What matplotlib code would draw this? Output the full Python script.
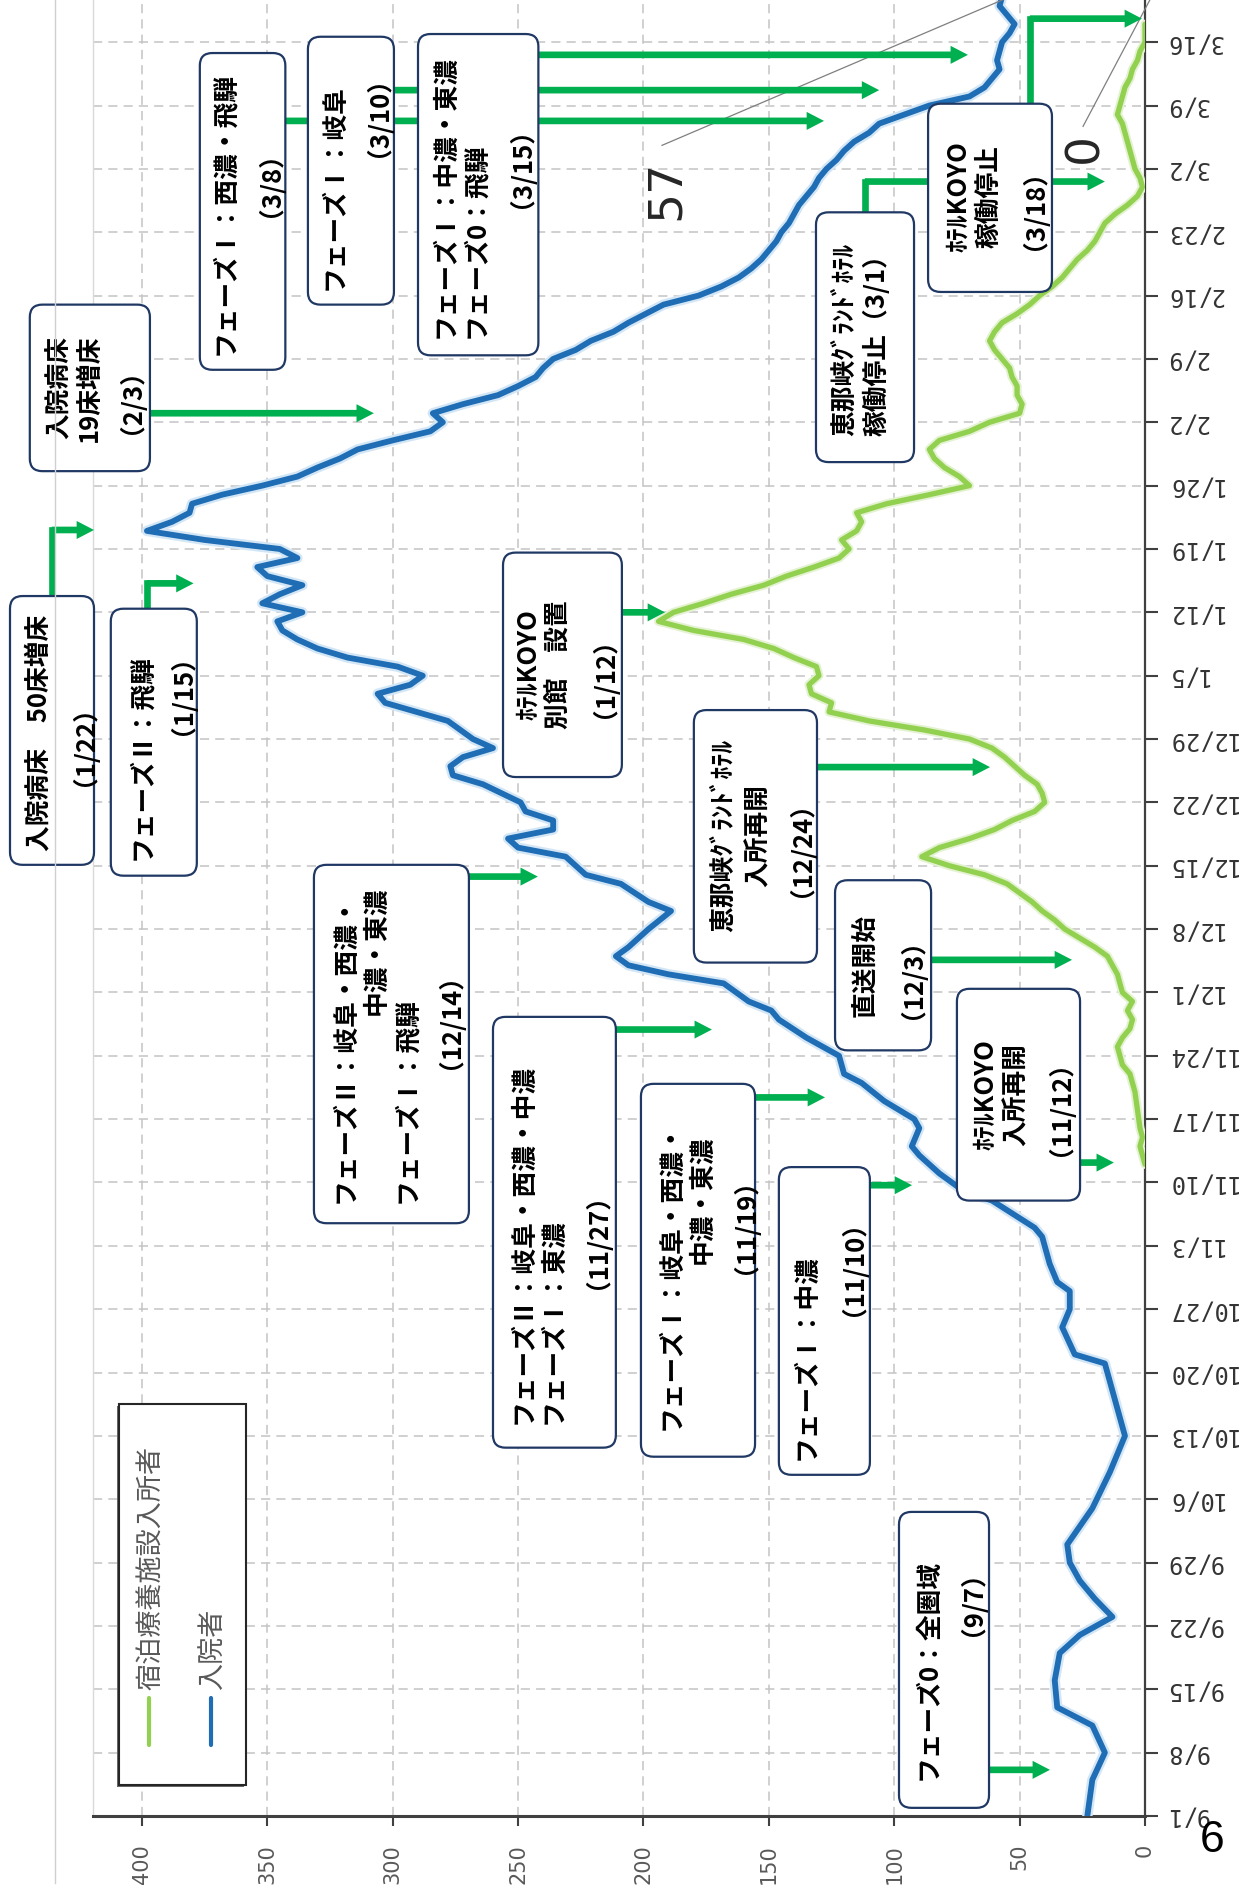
import matplotlib
matplotlib.use('Agg')
import matplotlib.pyplot as plt
import matplotlib.patheffects as pe
from matplotlib.patches import FancyBboxPatch, Rectangle
from matplotlib.lines import Line2D

plt.rcParams['font.family'] = ['Noto Sans CJK JP', 'DejaVu Sans']

# days are counted from 9/1 (2020); the chart is drawn turned on its side
date_ticks = list(range(0, 197, 7))
date_labels = ['9/1', '9/8', '9/15', '9/22', '9/29', '10/6', '10/13', '10/20', '10/27',
               '11/3', '11/10', '11/17', '11/24', '12/1', '12/8', '12/15', '12/22', '12/29',
               '1/5', '1/12', '1/19', '1/26', '2/2', '2/9', '2/16', '2/23', '3/2', '3/9', '3/16']
value_ticks = [0, 50, 100, 150, 200, 250, 300, 350, 400]

# 入院者
hosp_day = [0, 4, 7, 10, 12, 15, 18, 20, 22, 24, 26, 28, 30, 34, 38, 42, 46, 50, 51, 54, 56, 58, 59,
            61, 64, 65, 68, 69, 71, 73, 74, 76, 77, 79, 81, 82, 84, 86, 88, 89, 90, 92, 93, 94, 95,
            96, 98, 100, 101, 103, 104, 106, 107, 108, 109, 110, 111, 112, 114, 115, 116, 117, 118,
            119, 121, 123, 124, 125, 126, 127, 128, 129, 130, 131, 132, 133, 134, 135, 136, 137, 138,
            139, 140, 141, 142, 143, 144, 145, 146, 147, 148, 149, 150, 151, 152, 153, 154, 155, 156,
            157, 158, 159, 160, 161, 162, 163, 164, 165, 166, 167, 168, 169, 170, 171, 172, 173, 174,
            175, 176, 177, 178, 179, 180, 181, 182, 183, 184, 185, 186, 187, 188, 189, 190, 191, 192,
            193, 194, 195, 196, 197, 198, 199, 200, 201]
hosp_val = [23, 21, 16, 21, 35, 36, 34, 26, 13, 20, 26, 30, 31, 21, 14, 8, 12, 16, 28, 33, 30, 30, 35,
            38, 41, 44, 61, 72, 82, 90, 93, 90, 92, 104, 113, 120, 122, 135, 146, 149, 158, 168, 190, 206, 211,
            206, 198, 189, 198, 209, 223, 231, 250, 254, 236, 236, 247, 249, 264, 276, 277, 272, 260,
            268, 278, 303, 306, 293, 288, 298, 318, 330, 338, 344, 346, 336, 352, 345, 336, 350, 354,
            338, 345, 375, 398, 388, 381, 380, 368, 352, 338, 330, 321, 314, 300, 285, 280, 284, 272,
            258, 250, 243, 240, 236, 227, 221, 212, 206, 199, 192, 178, 169, 162, 157, 153, 150, 147,
            145, 142, 140, 138, 135, 132, 130, 127, 123, 120, 116, 110, 106, 96, 86, 70, 64, 61,
            58, 59, 58, 57, 54, 52, 55, 58, 57]

# 宿泊療養施設入所者
hotel_day = [72, 73, 74, 75, 76, 78, 80, 82, 83, 84, 85, 86, 87, 88, 89, 90, 91, 92, 93, 94, 95, 96, 97,
             98, 99, 100, 101, 102, 103, 104, 105, 106, 107, 108, 109, 110, 111, 112, 113, 114, 115,
             116, 117, 118, 119, 120, 121, 122, 123, 124, 125, 126, 127, 128, 129, 130, 131, 132, 133,
             134, 135, 136, 137, 138, 139, 140, 141, 142, 143, 144, 145, 146, 147, 148, 149, 150, 151,
             152, 153, 154, 155, 156, 157, 158, 159, 160, 161, 162, 163, 164, 165, 166, 167, 168, 169,
             170, 171, 172, 173, 174, 175, 176, 177, 178, 179, 180, 181, 182, 183, 184, 185, 186, 187,
             188, 189, 190, 191, 192, 193, 194, 195, 196, 197, 198]
hotel_val = [0, 1, 2, 1, 2, 3, 4, 6, 9, 10, 11, 9, 6, 5, 7, 5, 9, 10, 11, 13, 15, 20, 26,
             32, 36, 41, 45, 50, 55, 64, 78, 89, 82, 70, 60, 53, 44, 40, 41, 43, 48,
             52, 56, 61, 70, 88, 110, 126, 125, 133, 134, 130, 131, 140, 148, 160, 180, 194, 188,
             176, 165, 152, 143, 132, 122, 118, 121, 115, 113, 115, 103, 86, 70, 74, 80, 84, 86,
             82, 70, 62, 50, 49, 51, 51, 53, 54, 57, 60, 62, 60, 57, 51, 46, 42, 37,
             33, 30, 27, 23, 20, 18, 16, 12, 7, 3, 1, 2, 4, 5, 6, 7, 8, 9,
             11, 10, 9, 8, 6, 5, 3, 2, 0, 0, 0]

legend_labels = ['宿泊療養施設入所者', '入院者']

W, H = 1239, 1893
fig = plt.figure(figsize=(W / 100, H / 100), dpi=100)
ax = fig.add_axes([93 / W, 77 / H, 1052 / W, 1816 / H])
ax.set_xlim(419.5, 0)
ax.set_ylim(0, 200.66)

BLUE = '#1f6db4'
LGREEN = '#92d050'
ARROW = '#00b050'
NAVY = '#203864'

ax.plot(hosp_val, hosp_day, color=BLUE, lw=4.2, solid_joinstyle='round', solid_capstyle='round',
        zorder=3, path_effects=[pe.Stroke(linewidth=7.5, foreground='#d3e6f6'), pe.Normal()])
ax.plot(hotel_val, hotel_day, color=LGREEN, lw=3.8, solid_joinstyle='round', solid_capstyle='round',
        zorder=3, path_effects=[pe.Stroke(linewidth=6.5, foreground='#e4f2d2'), pe.Normal()])

# axes
ax.set_xticks(value_ticks)
ax.set_xticklabels([str(v) for v in value_ticks], rotation=90, family='DejaVu Sans',
                   fontsize=15, color='#595959')
ax.yaxis.tick_right()
ax.set_yticks(date_ticks)
ax.set_yticklabels(date_labels, rotation=180, family='DejaVu Sans Mono', fontsize=17,
                   color='#333333', va='center')
ax.tick_params(axis='x', direction='out', length=7, width=1.5, color='#404040', pad=13)
ax.tick_params(axis='y', direction='out', length=9, width=1.5, color='#404040', pad=6)
ax.grid(True, color='#c4c4c4', linestyle=(0, (6, 4)), lw=1.1)
ax.set_axisbelow(True)
ax.spines['top'].set_visible(False)
ax.spines['left'].set_color('#d9d9d9')
ax.spines['left'].set_linewidth(1)
ax.spines['right'].set_color('#404040')
ax.spines['right'].set_linewidth(1.6)
ax.spines['bottom'].set_color('#404040')
ax.spines['bottom'].set_linewidth(2.2)

# outer frame line
fig.add_artist(Line2D([55 / W, 55 / W], [10 / H, 1], color='#d0d0d0', lw=1))

ASPECT = (1052 / 419.5) / (1816 / 200.66)


def add_box(v0, v1, d0, d1):
    ax.add_patch(FancyBboxPatch((v1, d0), v0 - v1, d1 - d0,
                                boxstyle='round,pad=0,rounding_size=5',
                                mutation_aspect=ASPECT, fc='white', ec=NAVY, lw=1.6,
                                zorder=6, clip_on=False))


def add_line(text, v, d, va='center', size=18.5):
    ax.text(v, d, text, rotation=90, ha='center', va=va, fontsize=size,
            fontweight='bold', color='black', zorder=7, clip_on=False)


def add_arrow(pts):
    if len(pts) > 2:
        ax.plot([p[0] for p in pts[:-1]], [p[1] for p in pts[:-1]], color=ARROW, lw=4.8,
                solid_capstyle='projecting', solid_joinstyle='miter', zorder=5, clip_on=False)
    ax.annotate('', xy=pts[-1], xytext=pts[-2],
                arrowprops=dict(arrowstyle='simple,head_length=1.25,head_width=1.3,tail_width=0.48',
                                mutation_scale=10, fc=ARROW, ec='none', lw=0,
                                shrinkA=0, shrinkB=0), zorder=5, annotation_clip=False)


notes = [
    # box (v left, v right, d bottom, d top), lines, arrow path
    ((444.7, 396.8, 148.6, 167.0),
     [('入院病床', 433.1, 157.8, 'center'), ('19床増床', 421.1, 157.8, 'center'),
      ('（2/3）', 409.2, 157.8, 'center')],
     [(396.8, 155.0), (307.5, 155.0)]),
    ((376.9, 342.8, 159.8, 194.8),
     [('フェーズⅠ：西濃・飛騨', 366.9, 161.4, 'bottom'), ('（3/8）', 354.1, 181.8, 'center')],
     [(342.8, 187.3), (128.0, 187.3)]),
    ((333.8, 299.5, 167.0, 196.6),
     [('フェーズⅠ：岐阜', 323.4, 168.6, 'bottom'), ('（3/10）', 310.7, 189.2, 'center')],
     [(299.5, 190.7), (106.0, 190.7)]),
    ((289.9, 241.9, 161.4, 196.9),
     [('フェーズⅠ：中濃・東濃', 279.2, 163.3, 'bottom'), ('フェーズ0：飛騨', 266.8, 163.3, 'bottom'),
      ('（3/15）', 254.0, 183.6, 'center')],
     [(241.9, 194.6), (70.6, 194.6)]),
    ((86.5, 37.1, 168.4, 189.2),
     [('ﾎﾃﾙKOYO', 74.3, 178.9, 'center'), ('稼働停止', 62.2, 178.9, 'center'),
      ('（3/18）', 49.1, 178.9, 'center')],
     [(45.9, 189.2), (45.9, 198.6), (1.2, 198.6)]),
    ((131.2, 92.1, 149.6, 177.2),
     [('恵那峡ｸﾞﾗﾝﾄﾞﾎﾃﾙ', 119.8, 152.5, 'bottom'), ('稼働停止（3/1）', 106.9, 152.5, 'bottom')],
     [(111.7, 177.2), (111.7, 180.6), (16.0, 180.6)]),
    ((452.6, 419.1, 105.1, 134.8),
     [('入院病床　50床増床', 441.2, 119.7, 'center'), ('（1/22）', 427.9, 119.7, 'center')],
     [(435.9, 134.8), (435.9, 142.1), (419.1, 142.1)]),
    ((412.4, 378.1, 103.9, 133.4),
     [('フェーズⅡ：飛騨', 400.0, 105.6, 'bottom'), ('（1/15）', 389.0, 125.3, 'center')],
     [(398.0, 133.4), (398.0, 136.2), (379.4, 136.2)]),
    ((256.0, 208.6, 114.8, 139.6),
     [('ﾎﾃﾙKOYO', 245.8, 127.2, 'center'), ('別館　設置', 233.7, 127.2, 'center'),
      ('（1/12）', 220.9, 127.2, 'center')],
     [(208.6, 133.0), (191.4, 133.0)]),
    ((179.9, 130.8, 94.3, 122.2),
     [('恵那峡ｸﾞﾗﾝﾄﾞﾎﾃﾙ', 167.9, 108.3, 'center'), ('入所再開', 154.3, 108.3, 'center'),
      ('（12/24）', 142.0, 108.3, 'center')],
     [(130.8, 115.9), (61.8, 115.9)]),
    ((123.6, 85.3, 84.6, 103.4),
     [('直送開始', 111.7, 94.0, 'center'), ('（12/3）', 98.1, 94.0, 'center')],
     [(85.3, 94.6), (29.1, 94.6)]),
    ((75.0, 25.9, 68.0, 91.4),
     [('ﾎﾃﾙKOYO', 63.5, 79.7, 'center'), ('入所再開', 51.2, 79.7, 'center'),
      ('（11/12）', 38.8, 79.7, 'center')],
     [(25.9, 72.2), (12.4, 72.2)]),
    ((331.4, 269.6, 65.5, 105.1),
     [('フェーズⅡ：岐阜・西濃・', 319.0, 67.7, 'bottom'), ('中濃・東濃', 306.7, 102.7, 'top'),
      ('フェーズⅠ：飛騨', 294.3, 67.7, 'bottom'), ('（12/14）', 282.0, 89.3, 'center')],
     [(269.6, 103.8), (242.1, 103.8)]),
    ((260.0, 211.0, 40.7, 88.3),
     [('フェーズⅡ：岐阜・西濃・中濃', 248.2, 43.3, 'bottom'), ('フェーズⅠ：東濃', 236.1, 43.3, 'bottom'),
      ('（11/27）', 223.7, 65.0, 'center')],
     [(211.0, 86.9), (172.7, 86.9)]),
    ((201.0, 155.5, 39.7, 80.9),
     [('フェーズⅠ：岐阜・西濃・', 189.0, 42.7, 'bottom'), ('中濃・東濃', 176.5, 75.2, 'top'),
      ('（11/19）', 164.5, 66.6, 'center')],
     [(155.5, 79.4), (127.6, 79.4)]),
    ((146.0, 109.7, 37.7, 71.7),
     [('フェーズⅠ：中濃', 135.2, 39.3, 'bottom'), ('（11/10）', 121.6, 62.0, 'center')],
     [(109.7, 69.7), (92.9, 69.7)]),
    ((98.1, 62.2, 0.9, 33.6),
     [('フェーズ0：全圏域', 86.5, 4.0, 'bottom'), ('（9/7）', 73.9, 25.0, 'center')],
     [(62.2, 5.1), (37.9, 5.1)]),
]

for box, lines, path in notes:
    add_arrow(path)
    add_box(*box)
    for text, v, d, va in lines:
        add_line(text, v, d, va)

# labels for the last values
ax.plot([192.6, 56.6], [184.6, 200.7], color='#7f7f7f', lw=0.9, zorder=4, clip_on=False)
ax.text(190.8, 179.7, str(hosp_val[-1]), rotation=90, ha='center', va='center',
        fontsize=34, color='#262626', family='DejaVu Sans', zorder=7)
ax.plot([24.7, -2.0], [186.7, 200.7], color='#7f7f7f', lw=0.9, zorder=4, clip_on=False)
ax.text(23.9, 184.3, str(hotel_val[-1]), rotation=90, ha='center', va='center',
        fontsize=34, color='#262626', family='DejaVu Sans', zorder=7)

# legend, drawn by hand because it is turned too
leg = Rectangle((358.5, 3.4), 409.2 - 358.5, 45.5 - 3.4, fc='white', ec='#262626', lw=1.5,
                zorder=6)
leg.set_path_effects([pe.SimplePatchShadow(offset=(-1.5, -1.5), shadow_rgbFace='0.35', alpha=0.9),
                      pe.Normal()])
ax.add_patch(leg)
for label, color, v in zip(legend_labels, [LGREEN, BLUE], [397.0, 372.3]):
    ax.plot([v, v], [7.8, 13.0], color=color, lw=3, solid_capstyle='round', zorder=7)
    ax.text(v - 0.8, 13.9, label, rotation=90, ha='center', va='bottom', fontsize=19.5,
            color='#595959', zorder=7)

fig.text(1212 / W, 1 - 1841 / H, '6', fontsize=32, family='Liberation Sans',
         ha='center', va='center', color='black')

fig.savefig('out.png', dpi=100)
